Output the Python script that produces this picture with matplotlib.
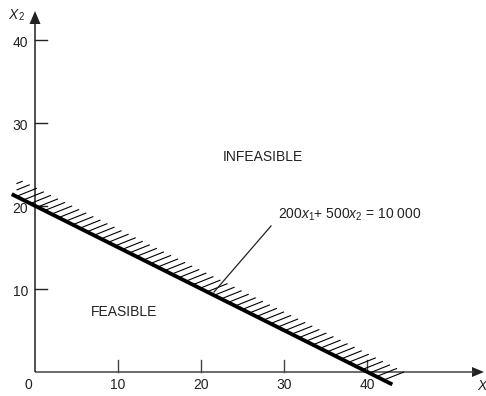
import numpy as np
import matplotlib
matplotlib.use("Agg")
import matplotlib.pyplot as plt

plt.rcParams['font.family'] = ['Liberation Sans', 'DejaVu Sans']
plt.rcParams['mathtext.fontset'] = 'custom'
plt.rcParams['mathtext.rm'] = 'Liberation Sans'
plt.rcParams['mathtext.it'] = 'Liberation Sans:italic'

# Constraint line as drawn: intercepts on each axis
x1_intercept = 40.0
x2_intercept = 20.0
line_x_range = [-2.8, 43.0]

x_ticks = [10, 20, 30, 40]
y_ticks = [10, 20, 30, 40]
x_tick_labels = ["0", "10", "20", "30", "40"]
y_tick_labels = ["10", "20", "30", "40"]

equation_label = r"200$\mathit{x}_1$+ 500$\mathit{x}_2$ = 10 000"

W, H, DPI = 486, 396, 100
px = 8.31            # pixels per unit
ox, oy = 35, 372     # origin in pixels

fig = plt.figure(figsize=(W / DPI, H / DPI), dpi=DPI)
ax = fig.add_axes([0, 0, 1, 1])
ax.set_xlim(-ox / px, (W - ox) / px)
ax.set_ylim(-(H - oy) / px, oy / px)
ax.axis('off')

ink = '#222222'
axis_col = '#444444'

def p(n):
    return n / px

# axes with arrowheads
ax.plot([0, p(449) - p(10)], [0, 0], color=axis_col, lw=1.1, solid_capstyle='butt')
ax.plot([0, 0], [0, p(361) - p(10)], color=ink, lw=1.1, solid_capstyle='butt')
ax.fill([p(449), p(449) - p(12), p(449) - p(12)], [0, p(5), -p(5)], color=ink, lw=0)
ax.fill([0, -p(5.5), p(5.5)], [p(361), p(361) - p(13), p(361) - p(13)], color=ink, lw=0)

# tick marks
tick_len = p(12)
for t in x_ticks:
    ax.plot([t, t], [0, tick_len], color=axis_col, lw=1.0)
for t in y_ticks:
    ax.plot([0, tick_len], [t, t], color=ink, lw=1.0)

fs = 10
for t, lab in zip([0] + x_ticks, x_tick_labels):
    xx = t - p(7) if t == 0 else t
    ax.text(xx, -p(13), lab, ha='center', va='center', fontsize=fs, color=ink)
for t, lab in zip(y_ticks, y_tick_labels):
    ax.text(-p(7), t - p(3), lab, ha='right', va='center', fontsize=fs, color=ink)

# axis labels
ax.text(-p(26.5), p(357), "X", style='italic', ha='left', va='center', fontsize=10, color=ink)
ax.text(-p(16), p(354.5), "2", ha='left', va='center', fontsize=7, color=ink)
ax.text(p(447), -p(14), "X", style='italic', ha='center', va='center', fontsize=10, color=ink)

# constraint line
slope = -x2_intercept / x1_intercept
xs = np.array(line_x_range)
ax.plot(xs, x2_intercept + slope * xs, color='black', lw=2.8, solid_capstyle='butt')

# hatching on the infeasible side, clipped at a left edge
spacing = 0.85
hx, hy = p(20), p(8)
left_edge = p(17 - ox)
for x0 in np.arange(line_x_range[0] - 2.0, line_x_range[1] - 0.2, spacing):
    y0 = x2_intercept + slope * x0
    xa, ya = x0, y0
    xb, yb = x0 + hx, y0 + hy
    if xb <= left_edge:
        continue
    if xa < left_edge:
        t = (left_edge - xa) / (xb - xa)
        xa, ya = left_edge, ya + t * (yb - ya)
    ax.plot([xa, xb], [ya, yb], color='black', lw=0.8)

# region labels
ax.text(p(263 - ox), p(oy - 157), "INFEASIBLE", ha='center', va='center', fontsize=fs, color=ink)
ax.text(p(124 - ox), p(oy - 312), "FEASIBLE", ha='center', va='center', fontsize=fs, color=ink)

# equation label with leader line
ax.text(p(278 - ox), p(oy - 215), equation_label, ha='left', va='center', fontsize=fs, color=ink)
ax.plot([p(271 - ox), p(214 - ox)], [p(oy - 226), p(oy - 292)], color=ink, lw=0.9)

fig.savefig("out.png", dpi=DPI)
